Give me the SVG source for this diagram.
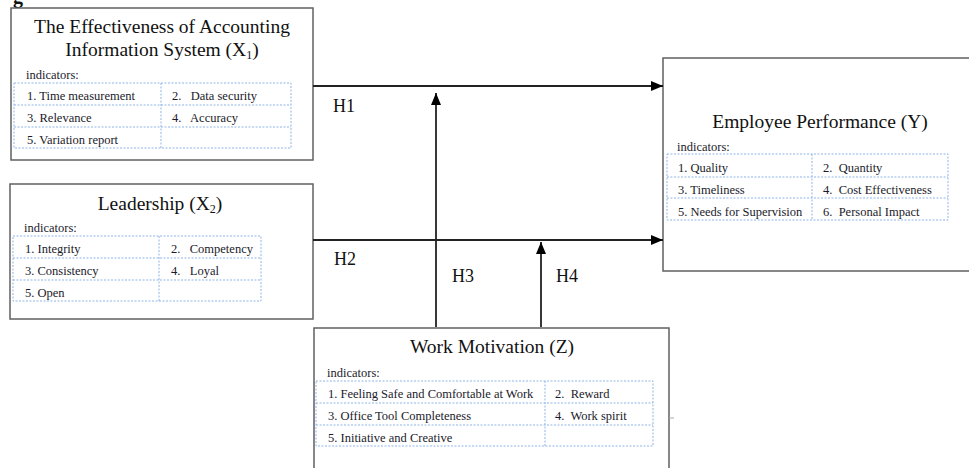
<svg xmlns="http://www.w3.org/2000/svg" width="969" height="468" viewBox="0 0 969 468">
<defs>
<marker id="ah" markerWidth="12" markerHeight="10" refX="12" refY="5" orient="auto" markerUnits="userSpaceOnUse">
<path d="M0,0 L12,5 L0,10 Z" fill="#000"/>
</marker>
<style>
.box{fill:#fff;stroke:#606060;stroke-width:1.5}
.tbl{fill:none;stroke:#8fb4e8;stroke-width:1;stroke-dasharray:2,1.5}
.ttl{font-family:"Liberation Serif",serif;font-size:19.5px;fill:#111;text-anchor:middle}
.sm{font-family:"Liberation Serif",serif;font-size:12.5px;fill:#1a1a2a}
.h{font-family:"Liberation Serif",serif;font-size:18px;fill:#111}
.ln{stroke:#222;stroke-width:1.8;fill:none}
</style>
</defs>
<rect width="969" height="468" fill="#fff"/>
<text x="13" y="3" font-family="Liberation Serif,serif" font-size="20" font-weight="bold" fill="#111">g</text>

<g id="x1">
<rect class="box" x="11" y="8" width="302" height="152"/>
<text class="ttl" x="162" y="33">The Effectiveness of Accounting</text>
<text class="ttl" x="162" y="56">Information System (X<tspan font-size="12" dy="3">1</tspan><tspan dy="-3">)</tspan></text>
<text class="sm" x="26" y="79">indicators:</text>
<rect class="tbl" x="14" y="83" width="277" height="65"/>
<path class="tbl" d="M14,105H291M14,127H291M161,83V148"/>
<text class="sm" x="27" y="100">1. Time measurement</text>
<text class="sm" x="172" y="100" xml:space="preserve">2.   Data security</text>
<text class="sm" x="27" y="122">3. Relevance</text>
<text class="sm" x="172" y="122" xml:space="preserve">4.   Accuracy</text>
<text class="sm" x="27" y="144">5. Variation report</text>
</g>

<g id="x2">
<rect class="box" x="10" y="184" width="303" height="135"/>
<text class="ttl" x="160" y="210">Leadership (X<tspan font-size="12" dy="3">2</tspan><tspan dy="-3">)</tspan></text>
<text class="sm" x="24" y="232">indicators:</text>
<rect class="tbl" x="13" y="236" width="248" height="65"/>
<path class="tbl" d="M13,258H261M13,280H261M159,236V301"/>
<text class="sm" x="25" y="253">1. Integrity</text>
<text class="sm" x="171" y="253" xml:space="preserve">2.   Competency</text>
<text class="sm" x="25" y="275">3. Consistency</text>
<text class="sm" x="171" y="275" xml:space="preserve">4.   Loyal</text>
<text class="sm" x="25" y="297">5. Open</text>
</g>

<g id="y">
<rect class="box" x="663" y="58" width="320" height="213"/>
<text class="ttl" x="820" y="128">Employee Performance (Y)</text>
<text class="sm" x="677" y="151">indicators:</text>
<rect class="tbl" x="667" y="154" width="281" height="66"/>
<path class="tbl" d="M667,177H948M667,198H948M812,154V220"/>
<text class="sm" x="678" y="172">1. Quality</text>
<text class="sm" x="823" y="172" xml:space="preserve">2.  Quantity</text>
<text class="sm" x="678" y="194">3. Timeliness</text>
<text class="sm" x="823" y="194" xml:space="preserve">4.  Cost Effectiveness</text>
<text class="sm" x="678" y="216">5. Needs for Supervision</text>
<text class="sm" x="823" y="216" xml:space="preserve">6.  Personal Impact</text>
</g>

<g id="z">
<rect class="box" x="314" y="328" width="355" height="150"/>
<text class="ttl" x="492" y="353">Work Motivation (Z)</text>
<text class="sm" x="327" y="377">indicators:</text>
<rect class="tbl" x="316" y="381" width="337" height="65"/>
<path class="tbl" d="M316,403H653M316,425H653M545,381V446"/>
<text class="sm" x="328" y="398">1. Feeling Safe and Comfortable at Work</text>
<text class="sm" x="555" y="398" xml:space="preserve">2.  Reward</text>
<text class="sm" x="328" y="420">3. Office Tool Completeness</text>
<text class="sm" x="555" y="420" xml:space="preserve">4.  Work spirit</text>
<text class="sm" x="328" y="442">5. Initiative and Creative</text>
<path d="M669,418H674" stroke="#aaa" stroke-width="1"/>
</g>

<g id="connectors">
<line class="ln" x1="313" y1="86" x2="663" y2="86" marker-end="url(#ah)"/>
<line class="ln" x1="313" y1="240" x2="663" y2="240" marker-end="url(#ah)"/>
<line class="ln" x1="436" y1="327" x2="436" y2="93" marker-end="url(#ah)"/>
<line class="ln" x1="541" y1="327" x2="541" y2="242" marker-end="url(#ah)"/>
<text class="h" x="333" y="112">H1</text>
<text class="h" x="334" y="265">H2</text>
<text class="h" x="452" y="282">H3</text>
<text class="h" x="556" y="282">H4</text>
</g>
</svg>
